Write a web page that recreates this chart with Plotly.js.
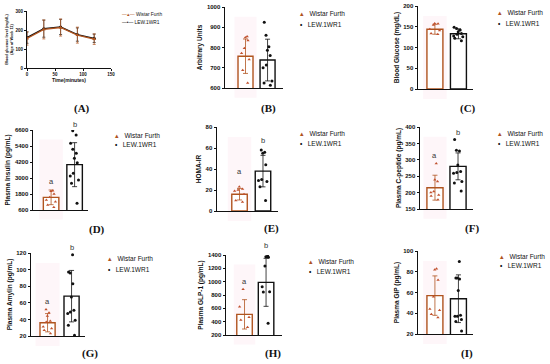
<!DOCTYPE html>
<html><head><meta charset="utf-8">
<script src="https://cdn.plot.ly/plotly-3.0.1.min.js"></script>
<style>html,body{margin:0;padding:0;background:#fff}#c{width:550px;height:364px}</style>
</head><body><div id="c"></div>
<script>
// ---------- DATA ----------
const groups = ["Wistar Furth", "LEW.1WR1"];
// Panel A: OGTT
const timeA = [0, 30, 60, 90, 120];
const wfA = [155, 203, 213, 173, 152];
const wfA_sd = [35, 50, 45, 42, 28];
const lewA = [160, 207, 216, 176, 156];
const lewA_sd = [30, 45, 40, 35, 22];
// Panel B
const wfB_mean = 757, wfB_sd = 85, lewB_mean = 738, lewB_sd = 103;
const wfB_pts = [854, 849, 834, 796, 771, 741, 688, 625];
const lewB_pts = [925, 860, 804, 787, 760, 713, 700, 635, 625, 613];
// Panel C
const wfC_mean = 144, wfC_sd = 12, lewC_mean = 133, lewC_sd = 12;
const wfC_pts = [158, 157, 154, 144, 141, 134, 132];
const lewC_pts = [149, 146, 142, 138, 134, 132, 128, 126, 122, 116];
// Panel D
const wfD_mean = 1550, wfD_sd = 550, lewD_mean = 4000, lewD_sd = 1650;
const wfD_pts = [2050, 2000, 1800, 1550, 1350, 1225, 975, 800];
const lewD_pts = [6550, 6225, 5600, 5150, 4850, 4475, 4150, 3350, 3150, 2850, 2600, 1100];
// Panel E
const wfE_mean = 16, wfE_sd = 5.5, lewE_mean = 38, lewE_sd = 15;
const wfE_pts = [23, 21, 20, 19, 16, 10, 8.6];
const lewE_pts = [58, 56, 55, 44, 30, 29, 28, 23, 10];
// Panel F
const wfF_mean = 215, wfF_sd = 38, lewF_mean = 280, lewF_sd = 41;
const wfF_pts = [289, 239, 234, 203, 200, 193, 190, 178];
const lewF_pts = [362, 329, 327, 284, 264, 261, 259, 234, 229, 205];
// Panel G
const wfG_mean = 36, wfG_sd = 11, lewG_mean = 68, lewG_sd = 31;
const wfG_pts = [52, 48, 44, 38, 37, 31, 29, 27, 23];
const lewG_pts = [118, 97, 96, 83, 67, 51, 49, 47, 39, 33, 21];
// Panel H
const wfH_mean = 510, wfH_sd = 220, lewH_mean = 990, lewH_sd = 360;
const wfH_pts = [885, 625, 465, 425, 315];
const lewH_pts = [1385, 1375, 1365, 1235, 925, 850, 845, 375];
// Panel I
const wfI_mean = 57, wfI_sd = 19, lewI_mean = 54, lewI_sd = 23;
const wfI_pts = [83, 82, 72, 56, 44, 43, 39, 36];
const lewI_pts = [90, 74, 74, 73, 62, 38, 37, 37, 34, 32, 23];
// Significance letters [a value, b value]
const lettersD = [2725, 7050], lettersE = [38, 67], lettersF = [314, 382], lettersG = [61, 127], lettersH = [1000, 1535];

// ---------- STYLE / LAYOUT ----------
const W = 550, H = 364;
const WF_COL = "#b0541f", WF_PT = "#c0502d", BLK = "#111111";
const FONT = "Liberation Sans, Arial, sans-serif";
const SERIF = "Liberation Serif, Times New Roman, serif";
const px = v => v / W, py = v => 1 - v / H;

const panels = [
  {id:"B", label:"(B)", lx:268, ly:108, box:[225,283,7,88], xr:[-0.93,1.70], bw:0.68, yr:[600,1000], dt:100, t0:600, title:"Arbitrary Units",
   wf:[wfB_mean,wfB_sd,wfB_pts], lew:[lewB_mean,lewB_sd,lewB_pts], leg:[298,14,25], letters:null},
  {id:"C", label:"(C)", lx:468, ly:108, box:[418,473,6,89], xr:[-0.72,1.62], bw:0.68, yr:[0,200], dt:50, t0:0, title:"Blood Glucose (mg/dL)",
   wf:[wfC_mean,wfC_sd,wfC_pts], lew:[lewC_mean,lewC_sd,lewC_pts], leg:[496,13,24], letters:null},
  {id:"D", label:"(D)", lx:97, ly:229, box:[33,88,130,210], xr:[-0.77,1.57], bw:0.66, yr:[600,6600], dt:1200, t0:600, title:"Plasma Insulin (pg/mL)",
   wf:[wfD_mean,wfD_sd,wfD_pts], lew:[lewD_mean,lewD_sd,lewD_pts], leg:[113,135,145], letters:lettersD},
  {id:"E", label:"(E)", lx:271, ly:228, box:[217,278,127,211], xr:[-0.96,1.64], bw:0.66, yr:[0,80], dt:20, t0:0, title:"HOMA-IR",
   wf:[wfE_mean,wfE_sd,wfE_pts], lew:[lewE_mean,lewE_sd,lewE_pts], leg:[298,133,144], letters:lettersE},
  {id:"F", label:"(F)", lx:472, ly:228, box:[420,473,127,209], xr:[-0.65,1.65], bw:0.7, yr:[150,400], dt:50, t0:150, title:"Plasma C-peptide (pg/mL)",
   wf:[wfF_mean,wfF_sd,wfF_pts], lew:[lewF_mean,lewF_sd,lewF_pts], leg:[496,133,144], letters:lettersF},
  {id:"G", label:"(G)", lx:90, ly:353, box:[31,85,253,336], xr:[-0.69,1.56], bw:0.63, yr:[20,120], dt:20, t0:20, title:"Plasma Amylin (pg/mL)",
   wf:[wfG_mean,wfG_sd,wfG_pts], lew:[lewG_mean,lewG_sd,lewG_pts], leg:[106,258,269], letters:lettersG},
  {id:"H", label:"(H)", lx:273, ly:353, box:[226,282,255,335], xr:[-0.86,1.74], bw:0.72, yr:[200,1400], dt:200, t0:200, title:"Plasma GLP-1 (pg/mL)",
   wf:[wfH_mean,wfH_sd,wfH_pts], lew:[lewH_mean,lewH_sd,lewH_pts], leg:[307,261,271], letters:lettersH},
  {id:"I", label:"(I)", lx:467, ly:353, box:[418,473,251,334], xr:[-0.72,1.62], bw:0.68, yr:[20,100], dt:20, t0:20, title:"Plasma GIP (pg/mL)",
   wf:[wfI_mean,wfI_sd,wfI_pts], lew:[lewI_mean,lewI_sd,lewI_pts], leg:[498,256,265], letters:null}
];

const traces = [];
const layout = {
  width: W, height: H, margin: {l:0, r:0, t:0, b:0},
  paper_bgcolor: "#ffffff", plot_bgcolor: "rgba(0,0,0,0)",
  showlegend: false, barmode: "overlay", boxmode: "overlay",
  font: {family: FONT, color: BLK},
  annotations: [], shapes: []
};

const tickFont = {family: FONT, size: 6, weight: "bold", color: BLK};
const titleFont = {family: FONT, size: 6.5, weight: "bold", color: BLK};
const labelFont = {family: SERIF, size: 11, weight: "bold", color: BLK};

// ---- Panel A ----
const boxA = [27, 111, 11, 68];
layout.xaxis = {domain:[px(boxA[0]), px(boxA[1])], anchor:"y", range:[0,150], tickvals:[0,50,100,150],
  showline:true, linecolor:BLK, linewidth:1, ticks:"outside", ticklen:2, tickcolor:BLK, showgrid:false, zeroline:false,
  tickfont:{family:FONT,size:4.5,weight:"bold",color:BLK},
  title:{text:"Time(minutes)", font:{family:FONT,size:5,weight:"bold",color:BLK}, standoff:2}};
layout.yaxis = {domain:[py(boxA[3]), py(boxA[2])], anchor:"x", range:[0,300], tickvals:[0,100,200,300],
  showline:true, linecolor:BLK, linewidth:1, ticks:"outside", ticklen:2, tickcolor:BLK, showgrid:false, zeroline:false,
  tickfont:{family:FONT,size:4.5,weight:"bold",color:BLK},
  title:{text:"Blood glucose level (mg/dL)<br>(Age of Week 11)", font:{family:FONT,size:3.8,weight:"bold",color:BLK}, standoff:2}};
traces.push({type:"scatter", mode:"lines+markers", x:timeA, y:lewA, xaxis:"x", yaxis:"y",
  line:{color:BLK, width:1.3}, marker:{symbol:"circle", size:3, color:BLK},
  error_y:{type:"data", array:lewA_sd, color:BLK, thickness:0.7, width:1.5}});
traces.push({type:"scatter", mode:"lines+markers", x:timeA, y:wfA, xaxis:"x", yaxis:"y",
  line:{color:WF_COL, width:1.3}, marker:{symbol:"triangle-up", size:3.5, color:WF_COL},
  error_y:{type:"data", array:wfA_sd, color:WF_COL, thickness:0.7, width:1.5}});
layout.annotations.push(
  {xref:"paper", yref:"paper", x:px(120), y:py(15), xanchor:"left", yanchor:"middle", showarrow:false,
   text:"<span style='color:"+WF_COL+"'>—▴—</span> "+groups[0], font:{family:FONT,size:4.8,color:BLK}},
  {xref:"paper", yref:"paper", x:px(120), y:py(22), xanchor:"left", yanchor:"middle", showarrow:false,
   text:"—•— "+groups[1], font:{family:FONT,size:4.8,color:BLK}},
  {xref:"paper", yref:"paper", x:px(82), y:py(108), xanchor:"center", yanchor:"middle", showarrow:false,
   text:"(A)", font:labelFont}
);

// ---- Bar panels ----
panels.forEach((p, i) => {
  const n = i + 2, xa = "x" + n, ya = "y" + n;
  const [x0, x1, yt, yb] = p.box;
  layout["xaxis" + n] = {domain:[px(x0), px(x1)], anchor:ya, range:p.xr, showline:true, linecolor:BLK, linewidth:1,
    showticklabels:false, ticks:"", showgrid:false, zeroline:false, fixedrange:true};
  layout["yaxis" + n] = {domain:[py(yb), py(yt)], anchor:xa, range:p.yr, tick0:p.t0, dtick:p.dt,
    showline:true, linecolor:BLK, linewidth:1, ticks:"outside", ticklen:2.5, tickcolor:BLK, showgrid:false, zeroline:false,
    tickfont:tickFont, title:{text:p.title, font:titleFont, standoff:3}};
  // faint pink wash behind the WF bar
  layout.shapes.push({type:"rect", xref:xa, yref:ya+" domain", x0:-0.5, x1:0.5, y0:-0.12, y1:0.88,
    fillcolor:"#fef6f9", line:{width:0}, layer:"below"});
  const [wm, ws, wp] = p.wf, [lm, ls, lp] = p.lew;
  traces.push({type:"bar", x:[0], y:[wm], width:p.bw, xaxis:xa, yaxis:ya,
    marker:{color:"#ffffff", line:{color:WF_COL, width:1.4}},
    error_y:{type:"data", array:[ws], color:WF_COL, thickness:0.8, width:2.5}});
  traces.push({type:"bar", x:[1], y:[lm], width:p.bw, xaxis:xa, yaxis:ya,
    marker:{color:"#ffffff", line:{color:BLK, width:1.4}},
    error_y:{type:"data", array:[ls], color:BLK, thickness:0.8, width:2.5}});
  traces.push({type:"box", x0:0, y:wp, width:p.bw, xaxis:xa, yaxis:ya, boxpoints:"all", jitter:0.75, pointpos:0,
    fillcolor:"rgba(0,0,0,0)", line:{color:"rgba(0,0,0,0)", width:0},
    marker:{symbol:"triangle-up", size:3, color:WF_PT}});
  traces.push({type:"box", x0:1, y:lp, width:p.bw, xaxis:xa, yaxis:ya, boxpoints:"all", jitter:0.75, pointpos:0,
    fillcolor:"rgba(0,0,0,0)", line:{color:"rgba(0,0,0,0)", width:0},
    marker:{symbol:"circle", size:3, color:BLK}});
  if (p.letters) {
    // place letters above each bar, converting value -> paper via the axis domain and range
    const xs = [0, 1].map(c => px(x0) + (c - p.xr[0]) / (p.xr[1] - p.xr[0]) * (px(x1) - px(x0)));
    const ys = p.letters.map(v => py(yb) + (v - p.yr[0]) / (p.yr[1] - p.yr[0]) * (py(yt) - py(yb)));
    ["a", "b"].forEach((t, k) => layout.annotations.push(
      {xref:"paper", yref:"paper", x:xs[k], y:ys[k], text:t, showarrow:false, opacity:0.99,
       xanchor:"center", yanchor:"middle", font:{family:FONT, size:7.5, color:"#333333"}}));
  }
  const [lgx, r1, r2] = p.leg;
  layout.annotations.push(
    {xref:"paper", yref:"paper", x:px(lgx), y:py(r1), xanchor:"left", yanchor:"middle", showarrow:false,
     text:"<span style='color:"+WF_COL+"'>▴</span>   "+groups[0], font:{family:FONT,size:6.5,color:BLK}},
    {xref:"paper", yref:"paper", x:px(lgx), y:py(r2), xanchor:"left", yanchor:"middle", showarrow:false,
     text:"<b>•</b>   "+groups[1], font:{family:FONT,size:6.5,color:BLK}},
    {xref:"paper", yref:"paper", x:px(p.lx), y:py(p.ly), xanchor:"center", yanchor:"middle", showarrow:false,
     text:p.label, font:labelFont}
  );
});

Plotly.newPlot("c", traces, layout, {staticPlot:true, displayModeBar:false});
</script></body></html>
